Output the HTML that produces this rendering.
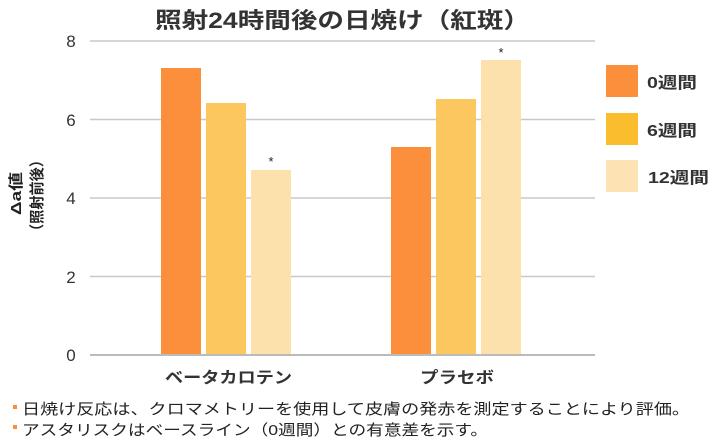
<!DOCTYPE html>
<html><head><meta charset="utf-8"><style>
html,body{margin:0;padding:0;background:#fff;}
svg{display:block;}
text{font-family:"Liberation Sans","Noto Sans CJK JP",sans-serif;}
</style></head><body>
<svg width="710" height="440" viewBox="0 0 710 440" xmlns="http://www.w3.org/2000/svg">
<text x="155" y="28" font-size="22" font-weight="bold" fill="#333" textLength="375" lengthAdjust="spacingAndGlyphs">照射24時間後の日焼け（紅斑）</text>
<g stroke="#c8c8c8" stroke-width="1.5">
<line x1="90" y1="41" x2="595" y2="41"/>
<line x1="90" y1="119.5" x2="595" y2="119.5"/>
<line x1="90" y1="198" x2="595" y2="198"/>
<line x1="90" y1="276.5" x2="595" y2="276.5"/>
</g>
<g font-size="17" fill="#333" text-anchor="middle">
<text x="71" y="47">8</text>
<text x="71" y="126">6</text>
<text x="71" y="204">4</text>
<text x="71" y="283">2</text>
<text x="71" y="361">0</text>
</g>
<rect x="161" y="68" width="40" height="287" fill="#fb8f3c"/>
<rect x="206" y="103" width="40" height="252" fill="#fcc75e"/>
<rect x="251" y="170" width="40" height="185" fill="#fde1ad"/>
<rect x="391" y="147" width="40" height="208" fill="#fb8f3c"/>
<rect x="436" y="99" width="40" height="256" fill="#fcc75e"/>
<rect x="481" y="60" width="40" height="295" fill="#fde1ad"/>
<line x1="90" y1="355" x2="595" y2="355" stroke="#bbb" stroke-width="2"/>
<text x="271" y="166" font-size="13" text-anchor="middle" fill="#222">*</text>
<text x="501" y="57" font-size="13" text-anchor="middle" fill="#222">*</text>
<text x="165" y="383" font-size="16" font-weight="bold" fill="#333" textLength="127" lengthAdjust="spacingAndGlyphs">ベータカロテン</text>
<text x="420" y="383" font-size="16" font-weight="bold" fill="#333" textLength="74" lengthAdjust="spacingAndGlyphs">プラセボ</text>
<text transform="translate(21,215) rotate(-90)" x="0" y="0" font-size="15" font-weight="bold" fill="#222" textLength="43" lengthAdjust="spacingAndGlyphs">Δa値</text>
<text transform="translate(42,238) rotate(-90)" x="0" y="0" font-size="15" font-weight="bold" fill="#222" textLength="85" lengthAdjust="spacingAndGlyphs">（照射前後）</text>
<rect x="606" y="65" width="32" height="32" fill="#fb8f3c"/>
<rect x="606" y="113" width="32" height="32" fill="#f9bd2e"/>
<rect x="606" y="160" width="32" height="32" fill="#fde3b4"/>
<g font-size="16" font-weight="bold" fill="#333">
<text x="647" y="88" textLength="50" lengthAdjust="spacingAndGlyphs">0週間</text>
<text x="647" y="136" textLength="50" lengthAdjust="spacingAndGlyphs">6週間</text>
<text x="648" y="183" textLength="61" lengthAdjust="spacingAndGlyphs">12週間</text>
</g>
<g font-size="15" fill="#222">
<rect x="13" y="405" width="4" height="4" fill="#fb8f3c"/>
<text x="22" y="414" textLength="668" lengthAdjust="spacingAndGlyphs">日焼け反応は、クロマメトリーを使用して皮膚の発赤を測定することにより評価。</text>
<rect x="13" y="425" width="4" height="4" fill="#fb8f3c"/>
<text x="22" y="435" textLength="466" lengthAdjust="spacingAndGlyphs">アスタリスクはベースライン（0週間）との有意差を示す。</text>
</g>
</svg>
</body></html>
